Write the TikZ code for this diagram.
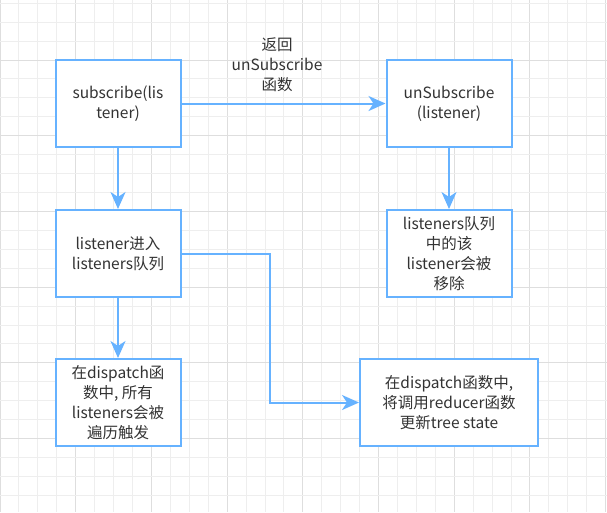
\documentclass[tikz,border=0pt]{standalone}
\usepackage{fontspec}
\setmainfont{Noto Sans CJK SC}
\usetikzlibrary{arrows.meta}
\definecolor{flowblue}{RGB}{102,178,255}
\definecolor{textgray}{RGB}{51,51,51}
\definecolor{gridminor}{RGB}{238,238,238}
\definecolor{gridmajor}{RGB}{222,222,222}
\tikzset{
  stepbox/.style={rectangle,draw=flowblue,line width=2pt,fill=white,
    minimum width=125pt,minimum height=87pt,inner sep=2pt,align=center,
    text=textgray,font=\fontsize{15.5}{20}\selectfont},
  flow/.style={-{Stealth[length=17pt,width=15pt,inset=5pt]},draw=flowblue,line width=2pt},
  flowlabel/.style={align=center,text=textgray,font=\fontsize{15.5}{20}\selectfont}
}

\begin{document}
\begin{tikzpicture}[x=1pt,y=-1pt]
\useasboundingbox (0,0) rectangle (607,512);
\fill[white] (0,0) rectangle (607,512);
% background grid
\foreach \k in {0,...,32}{
  \pgfmathsetmacro{\gx}{18.925*\k}
  \pgfmathtruncatemacro{\gm}{mod(\k,4)}
  \ifnum\gm=0 \draw[gridmajor,line width=.9pt] (\gx,0) -- (\gx,512);
  \else \draw[gridminor,line width=.9pt] (\gx,0) -- (\gx,512); \fi
}
\foreach \k in {0,...,27}{
  \pgfmathsetmacro{\gy}{3.225+18.925*\k}
  \pgfmathtruncatemacro{\gm}{mod(\k,4)}
  \ifnum\gm=3 \draw[gridmajor,line width=.9pt] (0,\gy) -- (607,\gy);
  \else \draw[gridminor,line width=.9pt] (0,\gy) -- (607,\gy); \fi
}
% boxes
\node[stepbox] (sub) at (118,103.5) {subscribe(lis\\tener)};
\node[stepbox] (unsub) at (449,103.5) {unSubscribe\\(listener)};
\node[stepbox] (enq) at (118,253.5) {listener进入\\listeners队列};
\node[stepbox] (remove) at (449,253.5) {listeners队列\\中的该\\listener会被\\移除};
\node[stepbox] (notify) at (118,402.5) {在dispatch函\\数中, 所有\\listeners会被\\遍历触发};
\node[stepbox,minimum width=178pt] (update) at (449,402.5) {在dispatch函数中,\\将调用reducer函数\\更新tree state};
\node[flowlabel] (ret) at (277,64.5) {返回\\unSubscribe\\函数};
% connectors
\coordinate (turn) at (270,253.5);
\draw[flow] (sub) -- (unsub);
\draw[flow] (sub) -- (enq);
\draw[flow] (unsub) -- (remove);
\draw[flow] (enq) -- (notify);
\draw[flow] (enq.east) -- (turn) |- (update.west);
\end{tikzpicture}
\end{document}
